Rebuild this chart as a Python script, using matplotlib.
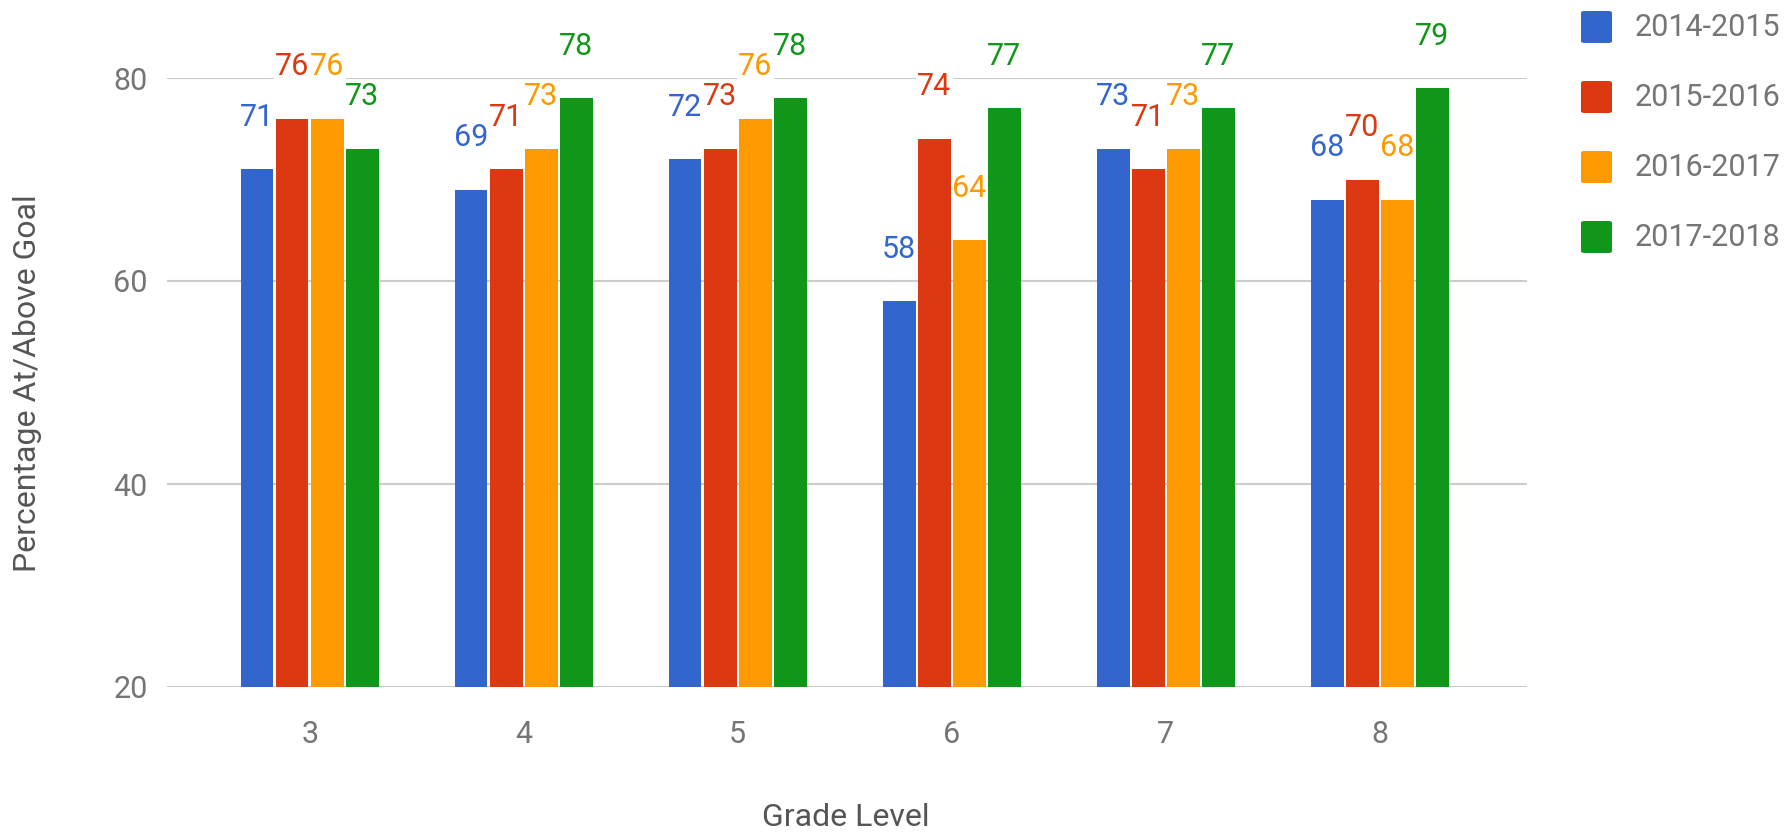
import matplotlib
matplotlib.use("Agg")
import matplotlib.pyplot as plt
from matplotlib.patches import FancyBboxPatch
import numpy as np

plt.rcParams['font.family'] = ['Roboto', 'DejaVu Sans']

grades = ["3", "4", "5", "6", "7", "8"]
series_names = ["2014-2015", "2015-2016", "2016-2017", "2017-2018"]
s2014_2015 = [71, 69, 72, 58, 73, 68]
s2015_2016 = [76, 71, 73, 74, 71, 70]
s2016_2017 = [76, 73, 76, 64, 73, 68]
s2017_2018 = [73, 78, 78, 77, 77, 79]
series_values = [s2014_2015, s2015_2016, s2016_2017, s2017_2018]
colors = ["#3366CC", "#DC3912", "#FF9900", "#109618"]
yticks = [20, 40, 60, 80]

W, H = 1791, 833
fig = plt.figure(figsize=(W / 100, H / 100), dpi=100)
ax = fig.add_axes([167 / W, 1 - 687 / H, (1527 - 167) / W, (687 - 78) / H])

x = np.arange(len(grades))
slot = 0.1636
bw = 0.152
for i, (vals, c) in enumerate(zip(series_values, colors)):
    xs = x + (i - 1.5) * slot
    ax.bar(xs, vals, width=bw, color=c, zorder=2, linewidth=0)
    for xi, v in zip(xs, vals):
        ax.annotate(str(v), xy=(xi, v), xytext=(0, 37.5), textcoords='offset points',
                    ha='center', va='center', color=c, fontsize=22, zorder=4,
                    bbox=dict(boxstyle='square,pad=0.05', facecolor='white', edgecolor='none'))

ax.set_xlim(-0.667, 5.688)
ax.set_ylim(20, 80)
ax.set_yticks(yticks)
ax.set_xticks(x)
ax.set_xticklabels(grades)
for s in ax.spines.values():
    s.set_visible(False)
ax.grid(axis='y', color='#cccccc', linewidth=1.5, zorder=0)
ax.set_axisbelow(True)
ax.tick_params(axis='both', length=0, labelsize=22, labelcolor='#757575')
ax.tick_params(axis='x', pad=24)
ax.tick_params(axis='y', pad=14)

fig.text(846 / W, 1 - 818 / H, "Grade Level", ha='center', va='center',
         fontsize=23, color='#555555')
fig.text(28 / W, 1 - 383 / H, "Percentage At/Above Goal", ha='center', va='center',
         rotation=90, fontsize=23, color='#555555')

# legend
for i, (name, c) in enumerate(zip(series_names, colors)):
    cy = 27 + i * 70
    p = FancyBboxPatch((1581 / W, 1 - (cy + 16) / H), 31 / W, 32 / H,
                       boxstyle='round,pad=0,rounding_size=0.002',
                       transform=fig.transFigure, facecolor=c, edgecolor='none')
    fig.patches.append(p)
    fig.text(1635 / W, 1 - cy / H, name, ha='left', va='center',
             fontsize=22, color='#757575')

fig.savefig("out.png", dpi=100, facecolor='white')
